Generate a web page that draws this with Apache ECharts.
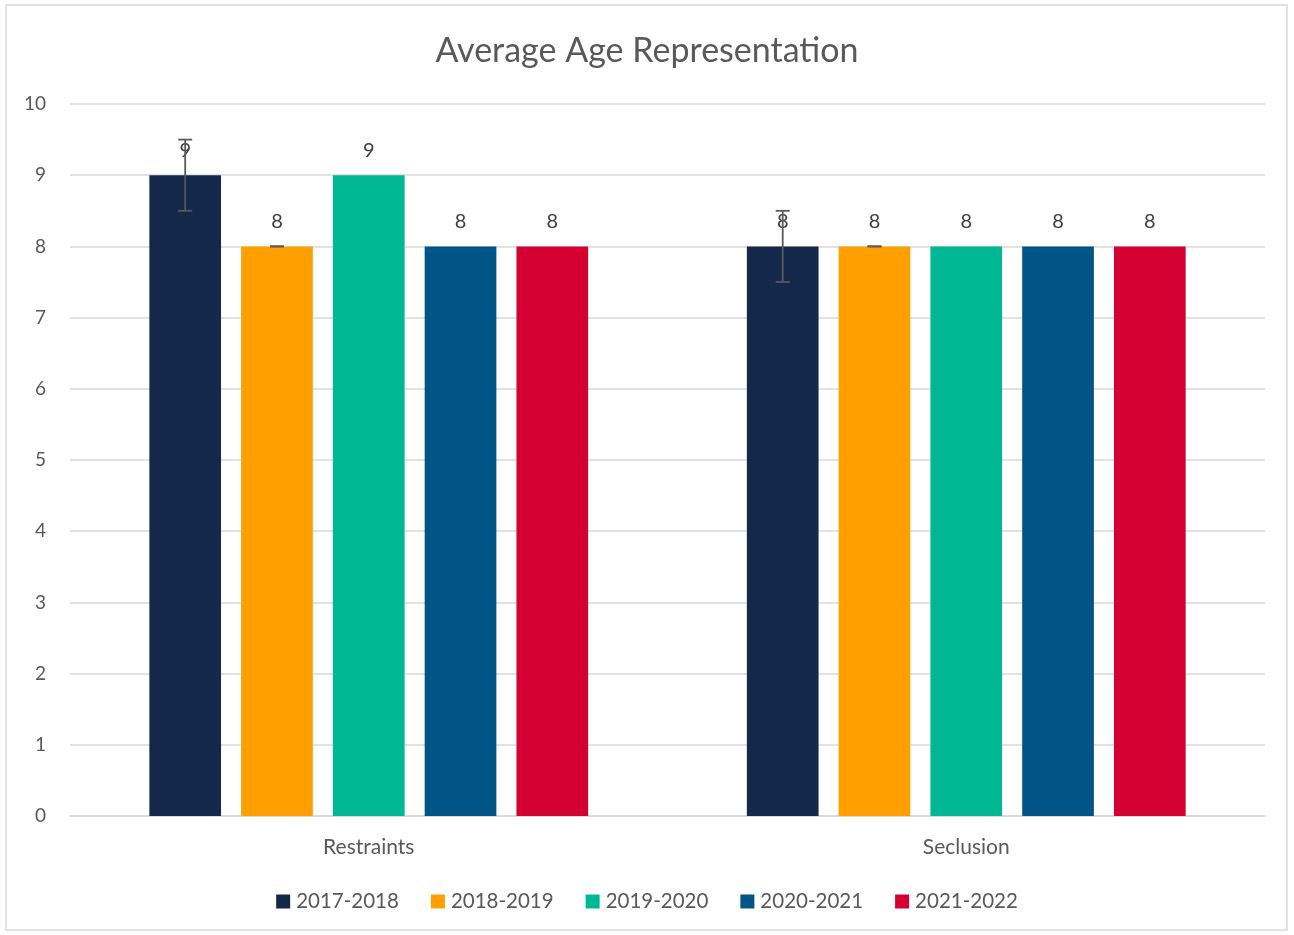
<!DOCTYPE html>
<html>
<head>
<meta charset="utf-8">
<script src="https://cdn.jsdelivr.net/npm/echarts@6/dist/echarts.min.js"></script>
<style>
  body { margin: 0; background: #fff; }
  #chart { width: 1294px; height: 935px; }
</style>
</head>
<body>
<div id="chart"></div>
<script>
const categories = ['Restraints', 'Seclusion'];
const seasons = ['2017-2018', '2018-2019', '2019-2020', '2020-2021', '2021-2022'];
const colors = ['#14284b', '#ffa000', '#00b894', '#005587', '#d50032'];
const values = [
  [9, 8],
  [8, 8],
  [9, 8],
  [8, 8],
  [8, 8]
];
// error amounts (+/-) per season; null = no error bar
const errors = [
  [0.5, 0.5],
  [0, 0],
  null,
  null,
  null
];

const barPct = 0.12;
const gapPct = 0.28;

let chart = echarts.init(document.getElementById('chart'));

let series = seasons.map((s, i) => ({
  name: s,
  type: 'bar',
  data: values[i],
  barWidth: (barPct * 100) + '%',
  barGap: (gapPct * 100) + '%',
  itemStyle: { color: colors[i] },
  label: {
    show: true,
    position: 'top',
    distance: 15,
    fontSize: 20,
    color: '#404040',
    fontFamily: 'Lato'
  }
}));

// error bars drawn as custom series
const total = seasons.length * barPct + (seasons.length - 1) * barPct * gapPct;
errors.forEach((err, i) => {
  if (!err) return;
  const offset = -total / 2 + barPct / 2 + i * barPct * (1 + gapPct);
  series.push({
    type: 'custom',
    name: seasons[i] + ' err',
    silent: true,
    z: 10,
    data: categories.map((c, k) => [k, values[i][k] - err[k], values[i][k] + err[k]]),
    renderItem: function (params, api) {
      const band = api.size([1, 0])[0];
      const lo = api.coord([api.value(0), api.value(1)]);
      const hi = api.coord([api.value(0), api.value(2)]);
      const x = lo[0] + offset * band;
      const cap = 7;
      const style = { stroke: '#595959', lineWidth: 1.8 };
      return {
        type: 'group',
        children: [
          { type: 'line', shape: { x1: x, y1: lo[1], x2: x, y2: hi[1] }, style: style },
          { type: 'line', shape: { x1: x - cap, y1: lo[1], x2: x + cap, y2: lo[1] }, style: style },
          { type: 'line', shape: { x1: x - cap, y1: hi[1], x2: x + cap, y2: hi[1] }, style: style }
        ]
      };
    }
  });
});

let option = {
  animation: false,
  textStyle: { fontFamily: 'Lato' },
  title: {
    text: 'Average Age Representation',
    left: 'center',
    top: 29,
    textStyle: { fontSize: 34, fontWeight: 'normal', color: '#595959', fontFamily: 'Lato' }
  },
  graphic: [{
    type: 'rect',
    shape: { x: 6, y: 5, width: 1281, height: 925 },
    style: { fill: 'none', stroke: '#d9d9d9', lineWidth: 1.5 },
    silent: true
  }],
  legend: {
    data: seasons,
    bottom: 18,
    left: 'center',
    icon: 'rect',
    itemWidth: 14,
    itemHeight: 14,
    itemGap: 32,
    textStyle: { fontSize: 20.5, color: '#595959', fontFamily: 'Lato', padding: [0, 0, 0, 1] }
  },
  grid: { left: 70, right: 29, top: 104, bottom: 119 },
  xAxis: {
    type: 'category',
    data: categories,
    axisLine: { lineStyle: { color: '#d9d9d9', width: 1.5 } },
    axisTick: { show: false },
    axisLabel: { fontSize: 21, color: '#595959', margin: 21, fontFamily: 'Lato' }
  },
  yAxis: {
    type: 'value',
    min: 0,
    max: 10,
    interval: 1,
    axisLine: { show: false },
    axisTick: { show: false },
    axisLabel: { fontSize: 19, color: '#595959', margin: 24, fontFamily: 'Lato' },
    splitLine: { lineStyle: { color: '#d9d9d9', width: 1.5 } }
  },
  series: series
};

chart.setOption(option);
</script>
</body>
</html>
